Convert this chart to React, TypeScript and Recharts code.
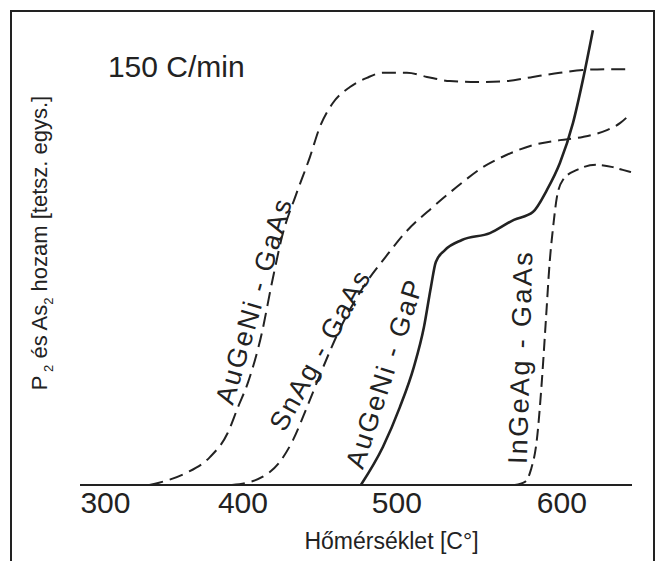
import React from 'react';
import { LineChart, Line, XAxis, YAxis, ReferenceDot } from 'recharts';

// temperature axis ticks (°C)
const xTickValues = [300, 400, 500, 600];
// the printed temperature scale is not linear: tick positions in units of the 300-400 interval
const xTickUnits = [0, 1, 2.12, 3.32];
const xDomainT = [281.5, 642.5];
const yDomain = [0, 100];

// AuGeNi - GaAs (dashed)
const auGeNiGaAsT = [332, 339, 358.5, 376, 389, 396.4, 403.2, 412.3, 418.8, 426, 434.4, 443.5, 450, 458.4, 469.5, 480.5, 490.9, 506.1, 518.2, 532.1, 548.5, 566.7, 582.4, 598.8, 612.7, 627.3, 642];
const auGeNiGaAsV = [0, 0.5, 2.6, 6.1, 11.4, 17, 22.3, 33.2, 44.1, 55, 63.3, 71.6, 78.2, 83.4, 86.9, 88.9, 90, 90, 89.1, 88.2, 88, 88.2, 89.1, 90, 90.6, 90.8, 90.8];

// SnAg - GaAs (dashed)
const snAgGaAsT = [392, 401.3, 412.3, 423.4, 432.5, 441.6, 450.6, 463.6, 479.9, 492.2, 504.8, 521.8, 536.4, 552.1, 566.7, 582.4, 598.8, 612.7, 627.3, 635.2, 642];
const snAgGaAsV = [0, 0.4, 1.7, 4.8, 9.8, 17, 24.5, 34.5, 44.1, 49.6, 55, 60.7, 65.1, 69.4, 72.1, 74.2, 75.3, 76, 77.5, 79, 81.2];

// AuGeNi - GaP (solid)
const auGeNiGaPT = [476.6, 490.9, 501.8, 510.3, 516.4, 520.6, 523.6, 529.1, 539.4, 556.4, 570.9, 582.4, 590.9, 598.8, 606.7, 612.7, 618.8];
const auGeNiGaPV = [0, 8.3, 17, 25.8, 34.5, 43.2, 48.7, 51.3, 53.5, 55, 57.9, 59.6, 64.4, 70.3, 79, 88.4, 99.3];

// InGeAg - GaAs (dashed)
const inGeAgGaAsT = [571.5, 577.6, 581.2, 584.8, 587.9, 590.3, 592.7, 594.5, 597, 600.6, 609.1, 621.2, 630.9, 636.9, 642];
const inGeAgGaAsV = [0, 0.7, 3.3, 9.8, 22.9, 36, 49.1, 55.7, 62.9, 66.6, 68.8, 69.9, 69.4, 68.8, 68.3];

// curve labels
const curveLabels = ['AuGeNi - GaAs', 'SnAg - GaAs', 'AuGeNi - GaP', 'InGeAg - GaAs'];
const curveLabelT = [407, 450, 492, 575];
const curveLabelV = [40, 29.3, 24.2, 27.7];

const rateText = '150 C/min';
const rateT = 301.8;
const rateV = 89.1;

const xAxisTitle = 'Hőmérséklet [C°]';

function toU(t: number): number {
  const n = xTickValues.length;
  let i = 0;
  if (t <= xTickValues[1]) i = 0;
  else if (t >= xTickValues[n - 2]) i = n - 2;
  else {
    for (i = 0; i < n - 1; i++) if (t <= xTickValues[i + 1]) break;
  }
  const t0 = xTickValues[i], t1 = xTickValues[i + 1];
  const u0 = xTickUnits[i], u1 = xTickUnits[i + 1];
  return u0 + ((t - t0) * (u1 - u0)) / (t1 - t0);
}

const tickLabel = (u: number): string => {
  let best = 0;
  xTickUnits.forEach((v, i) => {
    if (Math.abs(v - u) < Math.abs(xTickUnits[best] - u)) best = i;
  });
  return String(xTickValues[best]);
};

const toSeries = (ts: number[], vs: number[]) => ts.map((t, i) => ({ u: toU(t), v: vs[i] }));

const INK = '#222';
const FONT = '"Liberation Sans", Arial, sans-serif';

const XTick = (props: any) => {
  const { x, y, payload } = props;
  return (
    <text x={x} y={y} dy={28} textAnchor="middle" fontSize={30} fill={INK} fontFamily={FONT}>
      {tickLabel(payload.value)}
    </text>
  );
};

const rotatedLabel = (text: string, angle: number, size: number, len: number) => (p: any) => {
  const { cx, cy } = p;
  return (
    <text
      x={cx}
      y={cy}
      transform={`rotate(${angle} ${cx} ${cy})`}
      textAnchor="middle"
      dominantBaseline="central"
      fontSize={size}
      fill={INK}
      fontFamily={FONT}
      textLength={len}
      lengthAdjust="spacing"
    >
      {text}
    </text>
  );
};

const labelStyles = [
  { angle: -73.8, size: 27, len: 212 },
  { angle: -61, size: 27, len: 178 },
  { angle: -72, size: 27, len: 196 },
  { angle: -88.5, size: 27, len: 212 },
];

const YTitleText = () => {
  const x = 47;
  const y = 243;
  return (
    <text x={x} y={y} transform={`rotate(-90 ${x} ${y})`} textAnchor="middle" fontSize={22} fill={INK} fontFamily={FONT}>
      <tspan>P</tspan>
      <tspan dy={6} fontSize={13}> 2</tspan>
      <tspan dy={-6}> és As</tspan>
      <tspan dy={6} fontSize={13}>2</tspan>
      <tspan dy={-6}> hozam [tetsz. egys.]</tspan>
    </text>
  );
};

// axis titles are drawn from the x-axis label slot (y-axis title at its fixed place left of the axis)
const AxisTitles = (props: any) => {
  const vb = props.viewBox || { x: 80, y: 485, width: 552, height: 40 };
  return (
    <g>
      <text x={vb.x + vb.width / 2 + 35.5} y={vb.y + 64} textAnchor="middle" fontSize={23} fill={INK} fontFamily={FONT}>
        {xAxisTitle}
      </text>
      <YTitleText />
    </g>
  );
};

const RateShape = (p: any) => (
  <text x={p.cx} y={p.cy} fontSize={30} fill={INK} fontFamily={FONT}>
    {rateText}
  </text>
);

export default function App() {
  const s1 = toSeries(auGeNiGaAsT, auGeNiGaAsV);
  const s2 = toSeries(snAgGaAsT, snAgGaAsV);
  const s3 = toSeries(auGeNiGaPT, auGeNiGaPV);
  const s4 = toSeries(inGeAgGaAsT, inGeAgGaAsV);
  return (
    <div style={{ position: 'absolute', left: 0, top: 0, width: 656, height: 561, background: '#fff' }}>
      <div
        style={{
          position: 'absolute',
          left: 10,
          top: 10,
          width: 641,
          height: 560,
          borderLeft: `2px solid ${INK}`,
          borderTop: `2px solid ${INK}`,
          borderRight: `2px solid ${INK}`,
        }}
      />
      <div style={{ position: 'absolute', left: 0, top: 0 }}>
        <LineChart width={656} height={561} margin={{ top: 27, right: 24, bottom: 36, left: 80 }}>
          <XAxis
            type="number"
            dataKey="u"
            domain={[toU(xDomainT[0]), toU(xDomainT[1])]}
            allowDataOverflow
            ticks={xTickValues.map(toU)}
            tick={<XTick />}
            tickLine={false}
            tickSize={0}
            tickMargin={0}
            height={40}
            axisLine={{ stroke: INK, strokeWidth: 2 }}
            label={{ content: <AxisTitles /> }}
          />
          <YAxis
            type="number"
            domain={yDomain}
            allowDataOverflow
            tick={false}
            tickLine={false}
            width={0}
            axisLine={{ stroke: INK, strokeWidth: 2 }}
          />
          <Line data={s1} dataKey="v" type="monotone" stroke={INK} strokeWidth={2} strokeDasharray="14 7" dot={false} isAnimationActive={false} />
          <Line data={s2} dataKey="v" type="monotone" stroke={INK} strokeWidth={2} strokeDasharray="13 7" dot={false} isAnimationActive={false} />
          <Line data={s3} dataKey="v" type="monotone" stroke={INK} strokeWidth={2.6} dot={false} isAnimationActive={false} />
          <Line data={s4} dataKey="v" type="monotone" stroke={INK} strokeWidth={2} strokeDasharray="12 6" dot={false} isAnimationActive={false} />
          {curveLabels.map((txt, i) => (
            <ReferenceDot
              key={txt + i}
              x={toU(curveLabelT[i])}
              y={curveLabelV[i]}
              r={1}
              shape={rotatedLabel(txt, labelStyles[i].angle, labelStyles[i].size, labelStyles[i].len)}
            />
          ))}
          <ReferenceDot x={toU(rateT)} y={rateV} r={1} shape={RateShape} />
        </LineChart>
      </div>
    </div>
  );
}
